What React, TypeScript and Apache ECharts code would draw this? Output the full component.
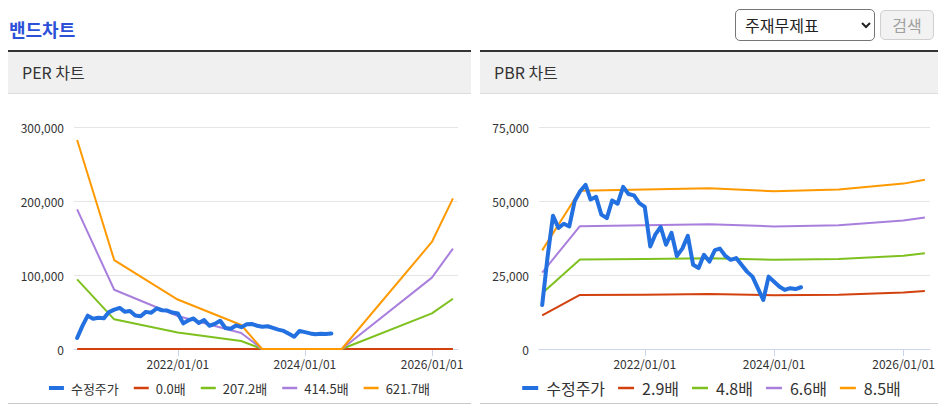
import React, { useEffect, useRef } from 'react';
import * as echarts from 'echarts';

const FONT = "'Noto Sans CJK KR', 'Noto Sans', sans-serif";

// ---- shared data ----
const priceDates = [
  '2020-06-01', '2020-07-01', '2020-08-01', '2020-09-01', '2020-10-01', '2020-11-01', '2020-12-01',
  '2021-01-01', '2021-02-01', '2021-03-01', '2021-04-01', '2021-05-01', '2021-06-01',
  '2021-07-01', '2021-08-01', '2021-09-01', '2021-10-01', '2021-11-01', '2021-12-01',
  '2022-01-01', '2022-02-01', '2022-03-01', '2022-04-01', '2022-05-01', '2022-06-01',
  '2022-07-01', '2022-08-01', '2022-09-01', '2022-10-01', '2022-11-01', '2022-12-01',
  '2023-01-01', '2023-02-01', '2023-03-01', '2023-04-01', '2023-05-01', '2023-06-01',
  '2023-07-01', '2023-08-01', '2023-09-01', '2023-10-01', '2023-11-01', '2023-12-01',
  '2024-01-01', '2024-02-01', '2024-03-01', '2024-04-01', '2024-05-01', '2024-06-01',
];
const priceValues = [
  14900, 31000, 45100, 41000, 42400, 41500, 50000,
  53400, 55600, 50600, 51500, 45500, 44300,
  50300, 49200, 54900, 52500, 52000, 49400,
  48100, 34700, 38700, 41300, 35300, 39300,
  31500, 34000, 38300, 28500, 27400, 31900,
  29600, 33500, 34000, 31500, 30200, 30800,
  28500, 26200, 24500, 20600, 16600, 24500,
  22800, 21100, 20000, 20600, 20300, 20900,
];

const xAxisMin = '2020-05-14';
const xAxisMax = '2026-05-30';
const xTickDates = ['2022-01-01', '2024-01-01', '2026-01-01'];

// ---- PER band ----
const perNames = ['수정주가', '0.0배', '207.2배', '414.5배', '621.7배'];
const perBandDates = ['2020-06-01', '2020-12-31', '2021-12-31', '2022-12-31', '2023-04-30', '2024-07-31', '2025-12-31', '2026-05-01'];
const per0 = [0, 0, 0, 0, 0, 0, 0, 0];
const per207 = [94300, 40200, 22300, 10800, 0, 0, 48300, 68000];
const per414 = [189000, 80300, 44700, 21700, 0, 0, 96700, 136000];
const per621 = [283000, 120500, 67000, 32500, 0, 0, 145000, 204000];
const perYTicks = [0, 300000, 100000]; // min, max, interval

// ---- PBR band ----
const pbrNames = ['수정주가', '2.9배', '4.8배', '6.6배', '8.5배'];
const pbrBandDates = ['2020-06-01', '2020-12-31', '2021-12-31', '2022-12-31', '2023-12-31', '2024-12-31', '2025-12-31', '2026-05-01'];
const pbr29 = [11400, 18300, 18400, 18600, 18200, 18400, 19100, 19600];
const pbr48 = [18900, 30300, 30500, 30700, 30200, 30500, 31600, 32400];
const pbr66 = [25900, 41600, 41900, 42200, 41500, 41900, 43500, 44500];
const pbr85 = [33400, 53600, 54000, 54400, 53400, 54000, 56000, 57300];
const pbrYTicks = [0, 75000, 25000];

const colors = ['#2370e0', '#d2410e', '#7ec11f', '#a97fdd', '#ff9900'];

const toTs = (s: string) => {
  const [y, m, d] = s.split('-').map(Number);
  return new Date(y, m - 1, d).getTime();
};
const pad = (n: number) => (n < 10 ? '0' : '') + n;
const fmtDate = (v: number) => {
  const d = new Date(v);
  return `${d.getFullYear()}/${pad(d.getMonth() + 1)}/${pad(d.getDate())}`;
};
const zip = (dates: string[], vals: number[]) => dates.map((d, i) => [toTs(d), vals[i]]);

function buildOption(cfg: {
  names: string[];
  bands: number[][];
  bandDates: string[];
  yTicks: number[];
  gridLeft: number;
  legendFont: number;
  legendItemW: number;
  legendItemH: number;
  legendTop: number;
  legendTextPad: number;
  legendGap: number;
}) {
  const tickTs = xTickDates.map(toTs);
  const thinIcon = `path://M0,0H${cfg.legendItemW}V2.5H0Z`;
  const thickIcon = `path://M0,0H${cfg.legendItemW}V4H0Z`;
  const series: any[] = [
    {
      name: cfg.names[0],
      type: 'line',
      data: zip(priceDates, priceValues),
      symbol: 'none',
      showSymbol: false,
      z: 3,
      lineStyle: { width: 4, color: colors[0], join: 'round', cap: 'round' },
      itemStyle: { color: colors[0] },
    },
  ];
  cfg.bands.forEach((vals, i) => {
    series.push({
      name: cfg.names[i + 1],
      type: 'line',
      data: zip(cfg.bandDates, vals),
      symbol: 'none',
      showSymbol: false,
      z: 2,
      lineStyle: { width: 2, color: colors[i + 1], join: 'round' },
      itemStyle: { color: colors[i + 1] },
    });
  });
  return {
    animation: false,
    textStyle: { fontFamily: FONT },
    grid: { left: cfg.gridLeft, right: 13, top: 33.5, bottom: 54 },
    legend: {
      top: cfg.legendTop,
      left: 'center',
      itemWidth: cfg.legendItemW,
      itemHeight: cfg.legendItemH,
      itemGap: cfg.legendGap,
      itemStyle: { borderWidth: 0 },
      data: cfg.names.map((n, i) => ({ name: n, icon: i === 0 ? thickIcon : thinIcon })),
      textStyle: {
        fontSize: cfg.legendFont,
        lineHeight: cfg.legendItemH,
        color: '#333',
        fontFamily: FONT,
        padding: [0, 0, 0, cfg.legendTextPad],
      },
    },
    xAxis: {
      type: 'value',
      min: toTs(xAxisMin),
      max: toTs(xAxisMax),
      splitLine: { show: false },
      axisLine: { show: true, onZero: false, lineStyle: { color: '#ccd6eb', width: 1 } },
      axisTick: { show: true, length: 7, lineStyle: { color: '#ccd6eb' }, customValues: tickTs },
      axisLabel: {
        customValues: tickTs,
        formatter: (v: number) => fmtDate(v),
        color: '#333',
        fontSize: 12,
        margin: 8,
        fontFamily: FONT,
      },
    },
    yAxis: {
      type: 'value',
      min: cfg.yTicks[0],
      max: cfg.yTicks[1],
      interval: cfg.yTicks[2],
      axisLine: { show: false },
      axisTick: { show: false },
      splitLine: { lineStyle: { color: '#e6e6e6', width: 1 } },
      axisLabel: {
        formatter: (v: number) => v.toLocaleString('en-US'),
        color: '#333',
        fontSize: 12,
        margin: 10,
        fontFamily: FONT,
      },
    },
    series,
  };
}

function Chart({ option }: { option: any }) {
  const ref = useRef<HTMLDivElement>(null);
  useEffect(() => {
    if (!ref.current) return;
    const chart = echarts.init(ref.current, undefined, { renderer: 'svg' });
    chart.setOption(option);
    return () => chart.dispose();
  }, [option]);
  return <div ref={ref} style={{ width: 463, height: 309 }} />;
}

const perOption = buildOption({
  names: perNames,
  bands: [per0, per207, per414, per621],
  bandDates: perBandDates,
  yTicks: perYTicks,
  gridLeft: 66,
  legendFont: 13,
  legendItemW: 15,
  legendItemH: 14,
  legendTop: 282,
  legendTextPad: 2,
  legendGap: 15,
});

const pbrOption = buildOption({
  names: pbrNames,
  bands: [pbr29, pbr48, pbr66, pbr85],
  bandDates: pbrBandDates,
  yTicks: pbrYTicks,
  gridLeft: 59,
  legendFont: 16,
  legendItemW: 16,
  legendItemH: 18,
  legendTop: 280,
  legendTextPad: 3,
  legendGap: 13,
});

function Panel({ title, left, option }: { title: string; left: number; option: any }) {
  return (
    <div style={{ position: 'absolute', left, top: 42, width: 463 }}>
      <div
        style={{
          borderTop: '2px solid #333',
          background: '#f0f0f0',
          height: 41,
          lineHeight: '41px',
          borderBottom: '1px solid #dcdcdc',
          paddingLeft: 14,
          fontSize: 16,
          color: '#333',
          fontFamily: FONT,
        }}
      >
        {title}
      </div>
      <Chart option={option} />
      <div style={{ height: 2, background: '#c8c8c8' }} />
    </div>
  );
}

export default function App() {
  return (
    <div style={{ position: 'relative', width: 930, height: 396, fontFamily: FONT }}>
      <div
        style={{
          position: 'absolute',
          left: 1,
          top: 9,
          fontSize: 18,
          lineHeight: '24px',
          fontWeight: 'bold',
          color: '#2c50d8',
        }}
      >
        밴드차트
      </div>
      <select
        defaultValue="주재무제표"
        style={{
          position: 'absolute',
          left: 727,
          top: 1,
          width: 140,
          height: 32,
          fontSize: 16,
          fontFamily: FONT,
          color: '#222',
          paddingLeft: 5,
          border: '1px solid #767676',
          borderRadius: 5,
          background: '#fff',
        }}
      >
        <option>주재무제표</option>
        <option>별도재무제표</option>
      </select>
      <button
        disabled
        style={{
          position: 'absolute',
          left: 872,
          top: 2,
          width: 54,
          height: 30,
          fontSize: 16,
          fontFamily: FONT,
          color: '#a0a0a0',
          background: '#f2f2f2',
          border: '1px solid #cfcfcf',
          borderRadius: 5,
          padding: 0,
        }}
      >
        검색
      </button>
      <Panel title="PER 차트" left={0} option={perOption} />
      <Panel title="PBR 차트" left={472} option={pbrOption} />
    </div>
  );
}
